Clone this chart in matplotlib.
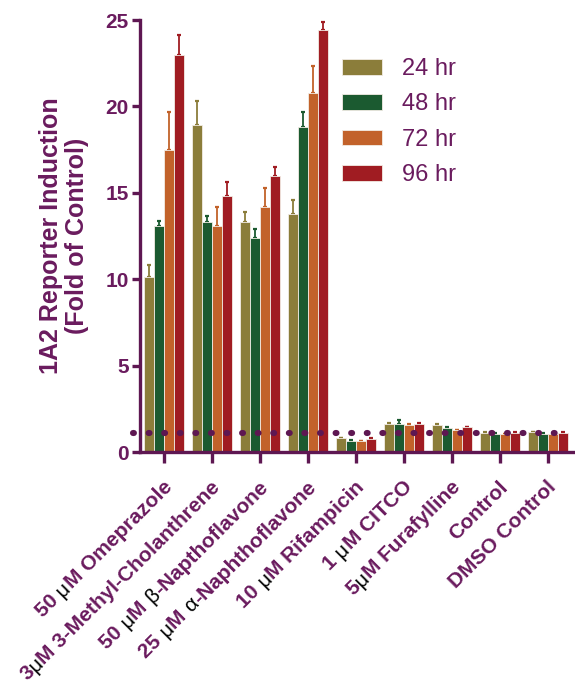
import numpy as np
import matplotlib
matplotlib.use('Agg')
import matplotlib.pyplot as plt

plt.rcParams['font.family'] = ['Liberation Sans', 'DejaVu Sans']

# data
treatments = [
    [('50 ', 'p'), ('\u03bc', 'k'), ('M Omeprazole', 'p')],
    [('3', 'p'), ('\u03bc', 'k'), ('M 3-Methyl-Cholanthrene', 'p')],
    [('50 ', 'p'), ('\u03bc', 'k'), ('M ', 'p'), ('\u03b2', 'k'), ('-Napthoflavone', 'p')],
    [('25 ', 'p'), ('\u03bc', 'k'), ('M ', 'p'), ('\u03b1', 'k'), ('-Naphthoflavone', 'p')],
    [('10 ', 'p'), ('\u03bc', 'k'), ('M Rifampicin', 'p')],
    [('1 ', 'p'), ('\u03bc', 'k'), ('M CITCO', 'p')],
    [('5', 'p'), ('\u03bc', 'k'), ('M Furafylline', 'p')],
    [('Control', 'p')],
    [('DMSO Control', 'p')],
]
series_names = ['24 hr', '48 hr', '72 hr', '96 hr']
vals_24 = [10.1, 18.9, 13.3, 13.8, 0.80, 1.60, 1.55, 1.10, 1.15]
vals_48 = [13.05, 13.3, 12.4, 18.8, 0.65, 1.62, 1.38, 1.05, 1.05]
vals_72 = [17.5, 13.1, 14.15, 20.8, 0.62, 1.55, 1.25, 1.02, 1.03]
vals_96 = [23.0, 14.8, 16.0, 24.45, 0.78, 1.62, 1.42, 1.10, 1.12]
err_24 = [0.75, 1.4, 0.6, 0.8, 0.03, 0.08, 0.05, 0.03, 0.03]
err_48 = [0.3, 0.35, 0.5, 0.9, 0.03, 0.22, 0.05, 0.03, 0.03]
err_72 = [2.15, 1.05, 1.1, 1.55, 0.03, 0.06, 0.05, 0.03, 0.03]
err_96 = [1.15, 0.8, 0.5, 0.45, 0.03, 0.06, 0.05, 0.03, 0.03]
ref_level = 1.1

colors = ['#8b7d3a', '#1b5a30', '#c2622a', '#a01c22']
purple = '#5e1752'
text_purple = '#6a1b5e'

fig = plt.figure(figsize=(5.75, 6.81), dpi=100)
ax = fig.add_axes([140 / 575, 1 - 452 / 681, 433 / 575, 432 / 681])

x = np.arange(len(treatments))
bw = 0.21
values = [vals_24, vals_48, vals_72, vals_96]
errors = [err_24, err_48, err_72, err_96]
for i, (v, e, c, name) in enumerate(zip(values, errors, colors, series_names)):
    pos = x + (i - 1.5) * bw
    ax.bar(pos, v, bw, color=c, edgecolor='#f2ece4', linewidth=0.6, label=name, zorder=2)
    ax.errorbar(pos, v, yerr=[np.zeros(len(v)), e], fmt='none', ecolor=c,
                elinewidth=1.3, capsize=1.6, capthick=1.6, zorder=1)

# dotted reference line at ~1
ax.plot([-0.65, 8.15], [ref_level, ref_level], color=purple, lw=4.4,
        linestyle=(0, (0.15, 2.4)), dash_capstyle='round', zorder=5, clip_on=False)

ax.set_xlim(-0.5, 8.52)
ax.set_ylim(0, 25)
ax.set_yticks([0, 5, 10, 15, 20, 25])
ax.set_xticks(x)
ax.set_xticklabels([])
for s in ['top', 'right']:
    ax.spines[s].set_visible(False)
for s in ['left', 'bottom']:
    ax.spines[s].set_color(purple)
    ax.spines[s].set_linewidth(2.4)
ax.tick_params(axis='y', colors=purple, width=2.4, length=6, labelsize=15,
               labelcolor=text_purple, pad=2)
ax.tick_params(axis='x', colors=purple, width=2.4, length=8)
for lab in ax.get_yticklabels():
    lab.set_fontweight('bold')

fig.text(64 / 575, 1 - 236 / 681, '1A2 Reporter Induction\n(Fold of Control)',
         rotation=90, ha='center', va='center', fontsize=18, fontweight='bold',
         color=text_purple, linespacing=1.15, multialignment='center')

leg = ax.legend(loc='upper left', bbox_to_anchor=(342 / 575, 1 - 58 / 681),
                bbox_transform=fig.transFigure, frameon=False, fontsize=17,
                handlelength=1.69, handleheight=0.64, handletextpad=0.85,
                labelspacing=0.57, borderpad=0, borderaxespad=0)
for t in leg.get_texts():
    t.set_color(text_purple)

# x labels with black greek letters, assembled piece by piece along 45 degrees
fig.canvas.draw()
renderer = fig.canvas.get_renderer()
label_fs = 15


def seg_width(s, weight):
    t1 = fig.text(0, 0, s + '|', fontsize=label_fs, fontweight=weight)
    t2 = fig.text(0, 0, '|', fontsize=label_fs, fontweight=weight)
    w = t1.get_window_extent(renderer).width - t2.get_window_extent(renderer).width
    t1.remove()
    t2.remove()
    return w


u = np.array([np.cos(np.pi / 4), np.sin(np.pi / 4)])
W, H = fig.bbox.width, fig.bbox.height
for xi, segs in zip(x, treatments):
    end = ax.transData.transform((xi, 0)) + np.array([9, -36])
    widths = [seg_width(s, 'bold' if c == 'p' else 'normal') for s, c in segs]
    start = end - sum(widths) * u
    off = 0
    for (s, c), w in zip(segs, widths):
        p = start + off * u
        if c == 'p':
            fig.text(p[0] / W, p[1] / H, s, rotation=45, rotation_mode='anchor',
                     ha='left', va='baseline', fontsize=label_fs, fontweight='bold',
                     color=text_purple)
        else:
            fig.text(p[0] / W, p[1] / H, s, rotation=45, rotation_mode='anchor',
                     ha='left', va='baseline', fontsize=label_fs, color='black')
        off += w

fig.savefig('out.png', dpi=100)
